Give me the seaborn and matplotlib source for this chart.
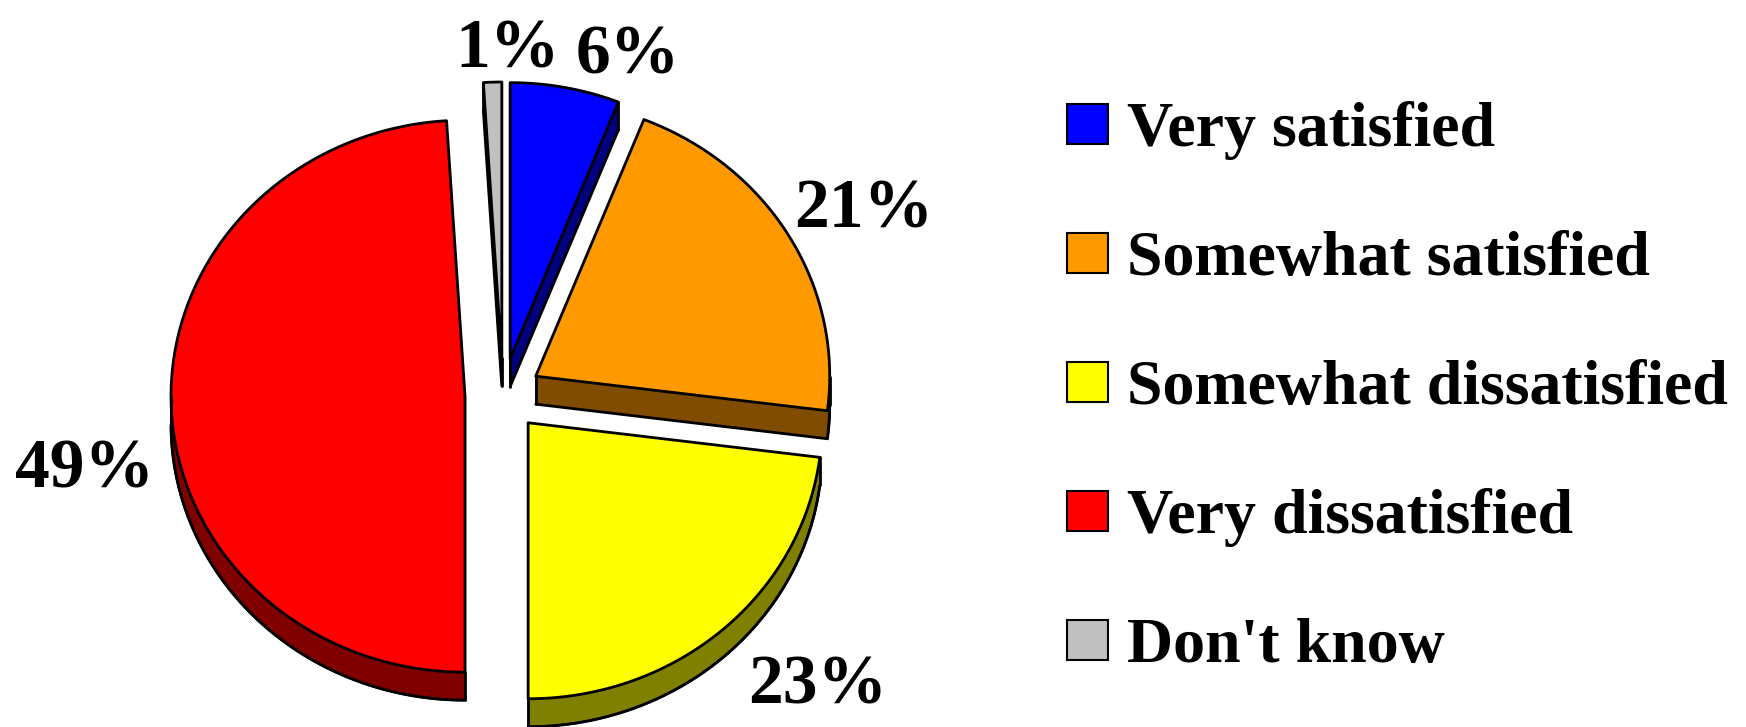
import numpy as np
import matplotlib
matplotlib.use("Agg")
import matplotlib.pyplot as plt
import matplotlib.patches as patches
from matplotlib.collections import LineCollection
import seaborn as sns

# data
categories = ["Very satisfied", "Somewhat satisfied", "Somewhat dissatisfied",
              "Very dissatisfied", "Don't know"]
shares = [6, 21, 23, 49, 1]
pct_labels = ["6%", "21%", "23%", "49%", "1%"]
top_colors = ["#0000FF", "#FF9900", "#FFFF00", "#FF0000", "#C0C0C0"]
side_colors = ["#000080", "#804C00", "#808000", "#800000", "#606060"]

# layout (pixels, y measured from the top)
W, H = 1746, 727
CX, CY = 503, 395
RX, RY = 294, 276
EX, EY = 38, 37
DEPTH = 28
label_xy = [(628, 73), (864, 228), (818, 704), (85, 487), (508, 67)]
LABEL_FS = 50
LEGEND_FS = 46


def main():
    sns.set_theme(style="white")
    plt.rcParams["font.family"] = ["Liberation Serif", "DejaVu Serif"]
    palette = sns.color_palette(top_colors)

    fig = plt.figure(figsize=(W / 100, H / 100), dpi=100)
    ax = fig.add_axes([0, 0, 1, 1])
    ax.set_xlim(0, W)
    ax.set_ylim(0, H)
    ax.axis("off")

    bounds = np.cumsum([0] + shares) / sum(shares) * 360
    slices = []
    for i in range(len(shares)):
        a0, a1 = bounds[i], bounds[i + 1]
        mid = np.radians((a0 + a1) / 2)
        ox = CX + EX * np.sin(mid)
        oy = (H - CY) + EY * np.cos(mid)
        t = np.radians(np.linspace(a0, a1, max(4, int((a1 - a0) * 3))))
        arc = np.column_stack([ox + RX * np.sin(t), oy + RY * np.cos(t)])
        poly = np.vstack([[ox, oy], arc])
        slices.append((i, poly))

    # back slices first
    slices.sort(key=lambda s: -s[1][0, 1])
    down = np.array([0, DEPTH])
    for i, poly in slices:
        side = side_colors[i]
        low = poly - down
        n = len(poly)
        front = []
        for k in range(n):
            p, q = poly[k], poly[(k + 1) % n]
            quad = [p, q, q - down, p - down]
            ax.add_patch(patches.Polygon(quad, closed=True, fc=side, ec=side, lw=0.8))
            front.append(q[0] - p[0] < -1e-6)
        ax.add_patch(patches.Polygon(low, closed=True, fc=side, ec=side, lw=0.8))

        # visible outline of the extruded side
        segs = []
        for k in range(n):
            if front[k]:
                segs.append([low[k], low[(k + 1) % n]])
            if front[k - 1] != front[k]:
                segs.append([poly[k], low[k]])
        ax.add_collection(LineCollection(segs, colors="black", linewidths=2,
                                         capstyle="round"))
        ax.add_patch(patches.Polygon(poly, closed=True, fc=palette[i], ec="black",
                                     lw=2, joinstyle="round"))

    for lab, (x, y) in zip(pct_labels, label_xy):
        ax.text(x, H - y, lab, ha="center", va="baseline", fontsize=LABEL_FS,
                fontweight="bold", color="black")

    # legend
    for i, cat in enumerate(categories):
        yc = 124 + i * 129
        ax.add_patch(patches.Rectangle((1067, H - yc - 20), 41, 40, fc=palette[i],
                                       ec="black", lw=1.5))
        ax.text(1127, H - yc - 22, cat, ha="left", va="baseline", fontsize=LEGEND_FS,
                fontweight="bold", color="black")

    fig.savefig("out.png", dpi=100, facecolor="white")


if __name__ == "__main__":
    main()
